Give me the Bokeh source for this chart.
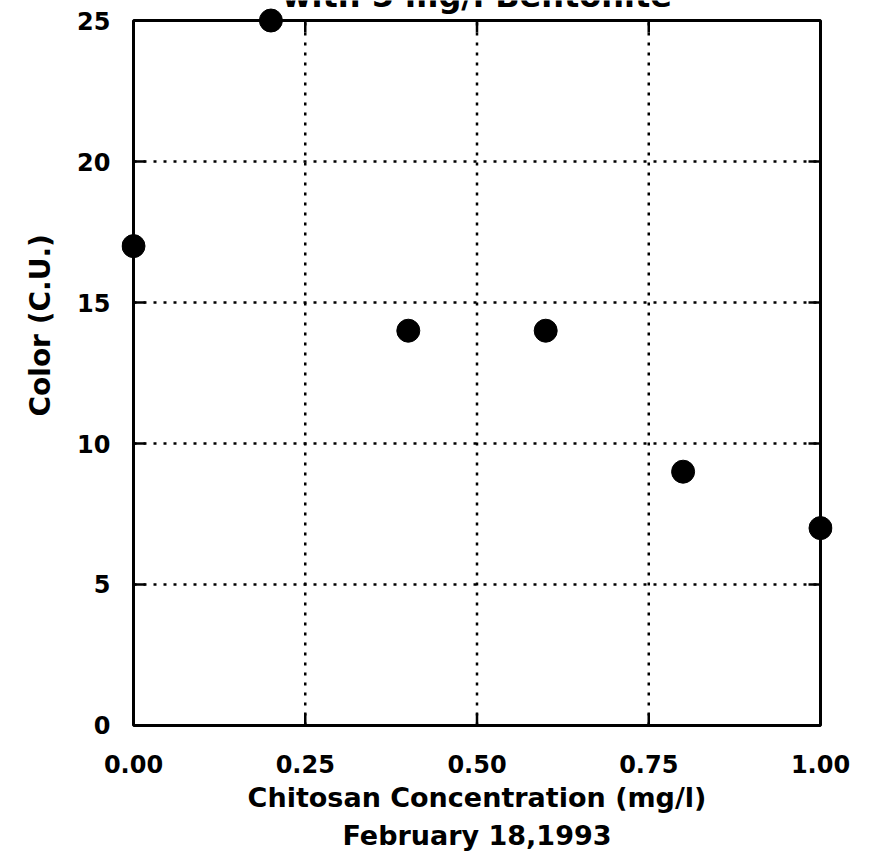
from bokeh.plotting import figure
from bokeh.models import FixedTicker, Label, Title, Range1d
from bokeh.embed import file_html
from bokeh.resources import INLINE

conc = [0.0, 0.2, 0.4, 0.6, 0.8, 1.0]
color_cu = [17, 25, 14, 14, 9, 7]
x_ticks = [0.0, 0.25, 0.5, 0.75, 1.0]
x_tick_labels = ["0.00", "0.25", "0.50", "0.75", "1.00"]
y_ticks = [0, 5, 10, 15, 20, 25]
title_text = "with 5 mg/l Bentonite"
x_label = "Chitosan Concentration (mg/l)"
date_label = "February 18,1993"
y_label = "Color (C.U.)"

FONT = "DejaVu Sans"

# pixel geometry of the data box, with a small pad so markers on the border are not clipped
PAD = 12
PAD_TOP = 20
BOX_W, BOX_H = 687, 704
TICK = 12
x0, x1 = x_ticks[0], x_ticks[-1]
y0, y1 = y_ticks[0], y_ticks[-1]
ux = (x1 - x0) / BOX_W   # data units per pixel
uy = (y1 - y0) / BOX_H

p = figure(width=866, height=851, output_backend="svg", toolbar_location=None,
           x_range=Range1d(x0 - PAD * ux, x1 + PAD * ux),
           y_range=Range1d(y0 - PAD * uy, y1 + PAD_TOP * uy),
           min_border_left=121, min_border_right=34, min_border_top=0, min_border_bottom=4)
p.background_fill_color = "white"
p.border_fill_color = "white"
p.outline_line_color = None
p.xgrid.visible = False
p.ygrid.visible = False

for ax in (p.xaxis[0], p.yaxis[0]):
    ax.axis_line_color = None
    ax.major_tick_line_color = None
    ax.minor_tick_line_color = None
    ax.major_label_text_font = FONT
    ax.major_label_text_font_style = "bold"
    ax.major_label_text_font_size = "24px"
    ax.major_label_text_color = "black"

p.xaxis.ticker = FixedTicker(ticks=x_ticks)
p.xaxis.major_label_overrides = {t: l for t, l in zip(x_ticks, x_tick_labels)}
p.xaxis.major_label_standoff = 11
p.yaxis.ticker = FixedTicker(ticks=y_ticks)
p.yaxis.major_label_standoff = 5

# dotted grid lines inside the data box
inner_x = x_ticks[1:-1]
inner_y = y_ticks[1:-1]
nx, ny = len(inner_x), len(inner_y)
p.segment(x0=inner_x, y0=[y0] * nx, x1=inner_x, y1=[y1] * nx,
          line_color="black", line_width=2.5, line_dash="3 7")
p.segment(x0=[x0] * ny, y0=inner_y, x1=[x1] * ny, y1=inner_y,
          line_color="black", line_width=2.5, line_dash="3 7")

# short inward tick marks on all four sides
tx, ty = TICK * ux, TICK * uy
p.segment(x0=inner_x * 2, y0=[y0] * nx + [y1] * nx, x1=inner_x * 2,
          y1=[y0 + ty] * nx + [y1 - ty] * nx, line_color="black", line_width=2.5)
p.segment(x0=[x0] * ny + [x1] * ny, y0=inner_y * 2, x1=[x0 + tx] * ny + [x1 - tx] * ny,
          y1=inner_y * 2, line_color="black", line_width=2.5)

# frame box
p.quad(left=[x0], right=[x1], bottom=[y0], top=[y1], fill_color=None,
       line_color="black", line_width=3)

p.add_layout(Title(text=x_label, align="center", text_font=FONT, text_font_style="bold",
                   text_font_size="27px", text_color="black", standoff=8), "below")
p.add_layout(Title(text=date_label, align="center", text_font=FONT, text_font_style="bold",
                   text_font_size="27px", text_color="black", standoff=2), "below")
p.add_layout(Title(text=y_label, align="left", offset=321, text_font=FONT,
                   text_font_style="bold", text_font_size="28px", text_color="black",
                   standoff=36), "left")

p.scatter(conc, color_cu, size=23, color="black")

# top title, cut off at the page edge as in the original
p.add_layout(Label(x=(x0 + x1) / 2, y=y1, x_units="data", y_units="data", text=title_text,
                   y_offset=25, text_align="center", text_baseline="alphabetic", text_font=FONT,
                   text_font_style="bold", text_font_size="32px", text_color="black"))

open("out.html", "w").write(file_html(p, INLINE))
